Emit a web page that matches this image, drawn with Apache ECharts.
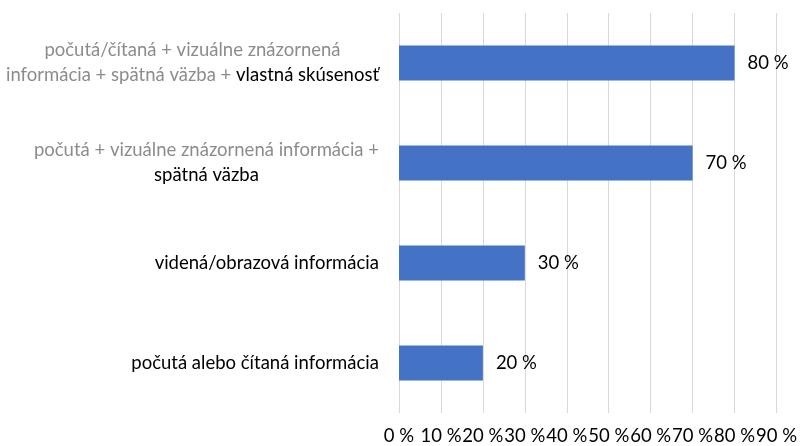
<!DOCTYPE html>
<html>
<head>
<meta charset="utf-8">
<script src="https://cdn.jsdelivr.net/npm/echarts@6/dist/echarts.min.js"></script>
<style>
  html, body { margin: 0; padding: 0; background: #fff; }
  #chart { width: 800px; height: 446px; }
</style>
</head>
<body>
<div id="chart"></div>
<script>
// data, bottom to top
const categories = [
  'počutá alebo čítaná informácia',
  'videná/obrazová informácia',
  'počutá + vizuálne znázornená informácia + spätná väzba',
  'počutá/čítaná + vizuálne znázornená informácia + spätná väzba + vlastná skúsenosť'
];
const values = [20, 30, 70, 80];
const xTicks = [0, 10, 20, 30, 40, 50, 60, 70, 80, 90];

// how each category label is broken and coloured (g = grey, b = black)
const labelRich = {
  [categories[0]]: '{b|počutá alebo čítaná informácia}',
  [categories[1]]: '{b|videná/obrazová informácia}',
  [categories[2]]: '{g|počutá + vizuálne znázornená informácia +}\n{b|spätná väzba}',
  [categories[3]]: '{g|počutá/čítaná + vizuálne znázornená}\n{g|informácia + spätná väzba + }{b|vlastná skúsenosť}'
};

const font = 'Lato, "Open Sans", sans-serif';

let chart = echarts.init(document.getElementById('chart'))
let option = {
  animation: false,
  grid: {
    left: 399,
    right: 20,
    top: 13,
    bottom: 32
  },
  xAxis: {
    type: 'value',
    min: xTicks[0],
    max: xTicks[xTicks.length - 1],
    interval: 10,
    axisLine: {show: false},
    axisTick: {show: false},
    splitLine: {lineStyle: {color: '#d9d9d9', width: 1}},
    axisLabel: {
      formatter: '{value} %',
      fontFamily: font,
      fontSize: 18.5,
      color: '#000',
      margin: 14
    }
  },
  yAxis: {
    type: 'category',
    data: categories,
    axisLine: {show: false},
    axisTick: {show: false},
    axisLabel: {
      margin: 20,
      formatter: v => labelRich[v],
      rich: {
        g: {color: '#8c8c8c', fontFamily: font, fontSize: 18.5, lineHeight: 25, align: 'center'},
        b: {color: '#000', fontFamily: font, fontSize: 18.5, lineHeight: 25, align: 'center'}
      }
    }
  },
  series: [
    {
      type: 'bar',
      data: values,
      barWidth: 35,
      itemStyle: {color: '#4472c4'},
      label: {
        show: true,
        position: 'right',
        distance: 13,
        formatter: '{c} %',
        fontFamily: font,
        fontSize: 18.5,
        color: '#000'
      }
    }
  ]
};
chart.setOption(option)
</script>
</body>
</html>
